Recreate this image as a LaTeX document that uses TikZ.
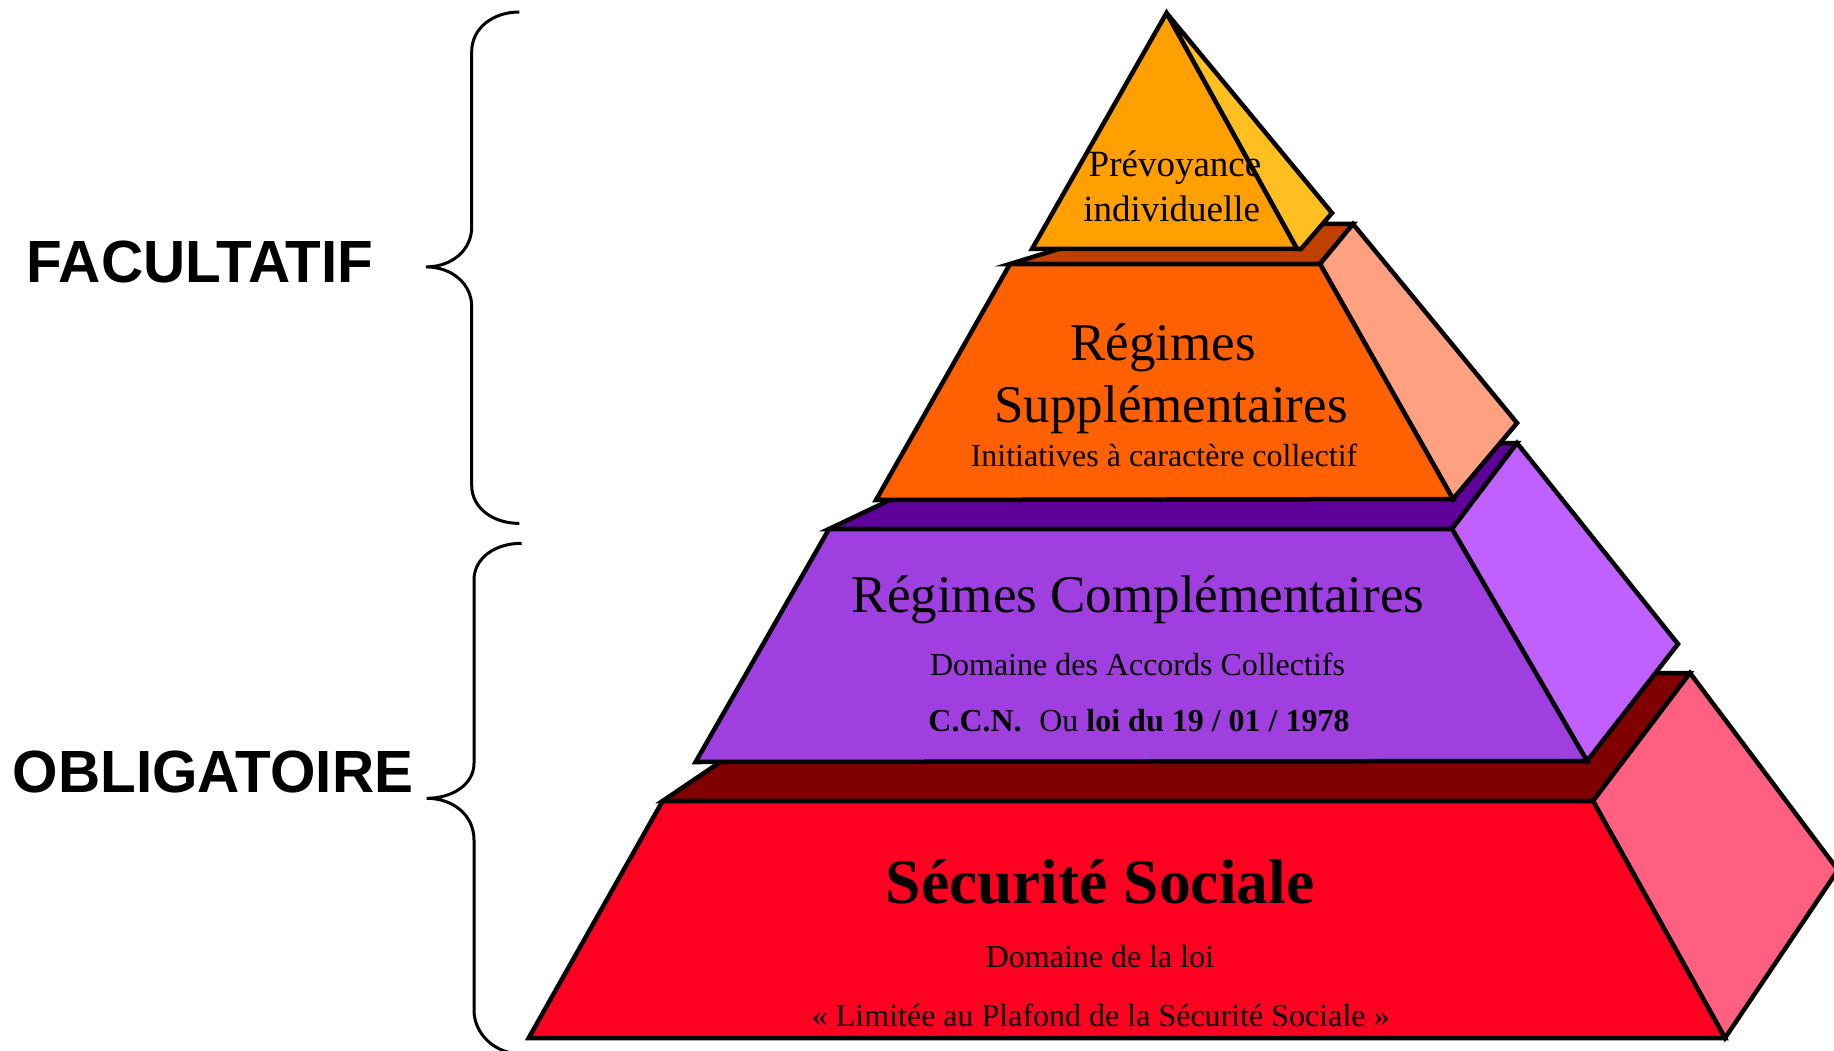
\documentclass[tikz,border=0pt]{standalone}
\usepackage{fontspec}
\setmainfont{Liberation Serif}
\newfontfamily\arialfont{Liberation Sans}
\definecolor{yelF}{HTML}{FFA000}
\definecolor{yelS}{HTML}{FFBF20}
\definecolor{orTop}{HTML}{C04000}
\definecolor{orF}{HTML}{FF6000}
\definecolor{orS}{HTML}{FFA080}
\definecolor{puTop}{HTML}{5E0099}
\definecolor{puF}{HTML}{9F3FDF}
\definecolor{puS}{HTML}{BF60FF}
\definecolor{reTop}{HTML}{800000}
\definecolor{reF}{HTML}{FF0020}
\definecolor{reS}{HTML}{FF6080}
\tikzset{
  face/.style={draw=black, line width=4.5pt, line join=miter},
  bracestyle/.style={draw=black, line width=3pt},
  lbl/.style={anchor=base, inner sep=0pt, text=black},
  big/.style={lbl, font=\fontsize{53}{60}\selectfont},
  mid/.style={lbl, font=\fontsize{37}{42}\selectfont},
  small/.style={lbl, font=\fontsize{32}{38}\selectfont},
  side/.style={lbl, font=\arialfont\bfseries\fontsize{58.4}{64}\selectfont}
}
\begin{document}
\begin{tikzpicture}[x=1pt,y=-1pt]
\useasboundingbox (0,0) rectangle (1834,1051);
\clip (0,0) rectangle (1834,1051);
\fill[white] (0,0) rectangle (1834,1051);

% red tier
\path[face, fill=reTop] (662.6,801) -- (1593,801) -- (1690,673) -- (852,673) -- cycle;
\path[face, fill=reS] (1593,801) -- (1690,673) -- (1838,870) -- (1725,1038) -- cycle;
\path[face, fill=reF] (662.6,801) -- (1593,801) -- (1725,1038) -- (528.7,1038) -- cycle;

% purple tier
\path[face, fill=puTop] (829,529) -- (1452,529) -- (1517,443) -- (1010,443) -- cycle;
\path[face, fill=puS] (1452,529) -- (1517,443) -- (1678,644) -- (1587,761) -- cycle;
\path[face, fill=puF] (829,529) -- (1452,529) -- (1587,761) -- (695.6,762) -- cycle;

% orange tier
\path[face, fill=orTop] (1010,264) -- (1320,264) -- (1353,224) -- (1140,224) -- cycle;
\path[face, fill=orS] (1320,264) -- (1353,224) -- (1517,423) -- (1453,499) -- cycle;
\path[face, fill=orF] (1010,264) -- (1320,264) -- (1453,499) -- (876,500) -- cycle;

% top pyramid
\path[face, fill=yelS] (1166.5,13) -- (1332,213) -- (1301,249) -- (1297,249) -- cycle;
\path[face, fill=yelF] (1166.5,13) -- (1297,249) -- (1032,249) -- cycle;

% texts
\node[mid] (prev1) at (1175,176.7) {Prévoyance};
\node[mid] (prev2) at (1171.7,221.7) {individuelle};

\node[big] (sup1) at (1163,360) {Régimes};
\node[big] (sup2) at (1171,422.7) {Supplémentaires};
\node[small] (sup3) at (1164,466.7) {Initiatives à caractère collectif};

\node[big] (comp1) at (1138,612) {Régimes Complémentaires};
\node[small] (comp2) at (1137.5,675) {Domaine des Accords Collectifs};
\node[small] (comp3) at (1139,731.7) {\textbf{C.C.N.}\hspace{0.55em}Ou \textbf{loi du 19 / 01 / 1978}};

\node[lbl, font=\bfseries\fontsize{63.5}{70}\selectfont] (secu1) at (1100,903) {Sécurité Sociale};
\node[small] (secu2) at (1100,967) {Domaine de la loi};
\node[small] (secu3) at (1100.7,1026) {« Limitée au Plafond de la Sécurité Sociale »};

\node[side] (fac) at (200,282.7) {\scalebox{1}[1.02]{FACULTATIF}};
\node[side] (obl) at (213,792) {\scalebox{1}[1.02]{OBLIGATOIRE}};

% braces
\draw[bracestyle] (519.3,12) .. controls (493,12) and (471.7,28) .. (471.7,51.7)
  -- (471.7,227) .. controls (471.7,250) and (452,266.9) .. (426,266.9)
  .. controls (452,266.9) and (471.7,284) .. (471.7,306.5)
  -- (471.7,485.5) .. controls (471.7,508) and (493,523.4) .. (519.3,523.4);
\draw[bracestyle] (521.7,543.3) .. controls (495,543.3) and (474,558) .. (474,580)
  -- (474,763.3) .. controls (474,784) and (453,798.3) .. (426.7,798.3)
  .. controls (453,798.3) and (474,815) .. (474,840)
  -- (474,1010) .. controls (474,1034) and (495,1054) .. (521.7,1054);
\end{tikzpicture}
\end{document}
